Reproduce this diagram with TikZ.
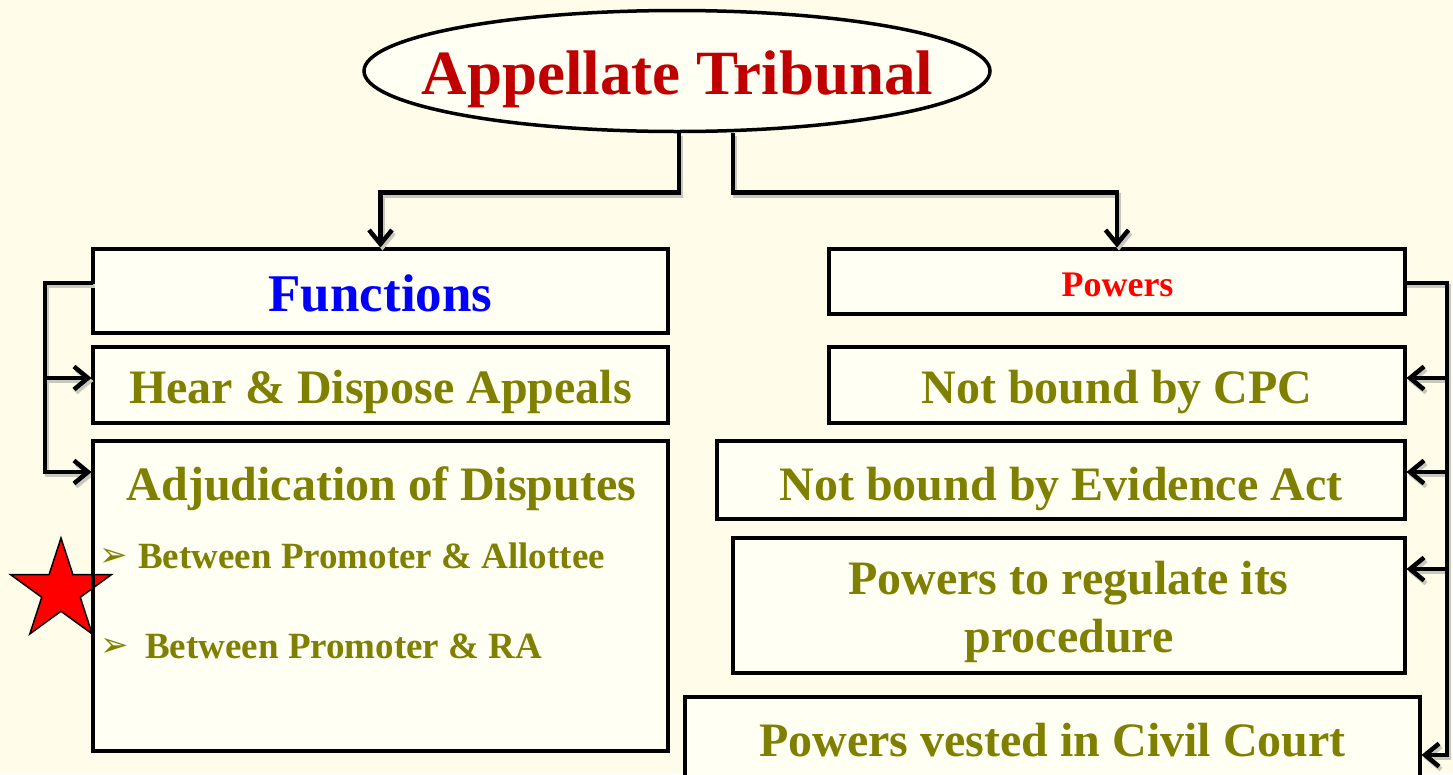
\documentclass[tikz,border=0pt]{standalone}
\usepackage{fontspec}
\setmainfont{Liberation Serif}
\newfontfamily\dejavu{DejaVu Sans}
\usetikzlibrary{arrows.meta,shapes.geometric,calc}
\definecolor{bg}{HTML}{FFFDE9}
\definecolor{boxfill}{HTML}{FFFFF3}
\definecolor{olivetxt}{HTML}{808000}
\definecolor{titlered}{HTML}{C00000}
\definecolor{shade}{HTML}{C8C8BE}
\newcommand\myconnectors{%
\draw[conn,arr] ([xshift=2]title.south) -- ++(0,59) -| (func.north);
\draw[conn,arr] ([xshift=56]title.south) -- ++(0,59) -| (pow.north);
\draw[conn,arr] (func.west |- LT) -- (LT) -- (LB) -- (adj.west |- LB);
\draw[conn,arr] (LM) -- (hear.west |- LM);
\draw[conn,arr] (pow.east |- RT) -- (RT) -- (RB) -- (civ.east |- RB);
\draw[conn,arr] (R1) -- (cpc.east |- R1);
\draw[conn,arr] (R2) -- (evid.east |- R2);
\draw[conn,arr] (R3) -- (reg.east |- R3);
}
\begin{document}
\begin{tikzpicture}[x=1pt,y=-1pt,
  box/.style={draw=black, line width=4pt, fill=boxfill, rectangle, inner sep=0pt, outer sep=0pt},
  maintxt/.style={font=\fontsize{48}{56}\selectfont\bfseries, text=olivetxt, anchor=base, inner sep=0pt},
  subtxt/.style={font=\fontsize{37}{42}\selectfont\bfseries, text=olivetxt, anchor=base west, inner sep=0pt},
  bul/.style={font=\dejavu\fontsize{34}{36}\selectfont, text=olivetxt, anchor=base west, inner sep=0pt},
  conn/.style={line width=4.5pt, shorten >=1.5pt},
  arr/.style={-{Straight Barb[length=14pt,width=23pt]}}
]
\fill[bg] (0,0) rectangle (1453,774);
\useasboundingbox (0,0) rectangle (1453,774);

% title
\node[draw=black, line width=3.5pt, ellipse, fill=boxfill, minimum width=626, minimum height=121, inner sep=0pt] (title) at (677,71) {};
\node[font=\fontsize{63}{70}\selectfont\bfseries, text=titlered, anchor=base, inner sep=0pt] (titletxt) at (677.5,94) {Appellate Tribunal};

% bus coordinates
\coordinate (LT) at (45,283);
\coordinate (LM) at (45,378);
\coordinate (LB) at (45,472);
\coordinate (RT) at (1447,283);
\coordinate (R1) at (1447,378);
\coordinate (R2) at (1447,472);
\coordinate (R3) at (1447,569);
\coordinate (RB) at (1447,755);

% left boxes
\node[box, minimum width=575, minimum height=84] (func) at (380.5,291) {};
\node[box, minimum width=575, minimum height=76] (hear) at (380.5,385) {};
\node[box, minimum width=575, minimum height=310] (adj) at (380.5,596) {};

% right boxes
\node[box, minimum width=576, minimum height=65] (pow) at (1117,281.5) {};
\node[box, minimum width=576, minimum height=76] (cpc) at (1117,385) {};
\node[box, minimum width=688, minimum height=78] (evid) at (1061,480) {};
\node[box, minimum width=672, minimum height=135] (reg) at (1069,605.5) {};
\node[box, minimum width=735, minimum height=80] (civ) at (1052.5,737) {};

% connector shadows
\begin{scope}[transform canvas={shift={(2pt,-3pt)}}, every path/.append style={draw=shade}]
\myconnectors
\end{scope}
% connectors
\myconnectors

% texts
\node[font=\fontsize{53}{60}\selectfont\bfseries, text=blue, anchor=base, inner sep=0pt] (functxt) at (380.5,311) {Functions};
\node[maintxt] (heartxt) at (380.5,403) {Hear \& Dispose Appeals};
\node[maintxt] (adjtxt) at (381.5,500) {Adjudication of Disputes};
\node[bul] (m1) at (99,566) {➢};
\node[subtxt] (b1) at (138,568) {Between Promoter \& Allottee};
\node[bul] (m2) at (100,656) {➢};
\node[subtxt] (b2) at (145,658) {Between Promoter \& RA};

\node[font=\fontsize{36}{40}\selectfont\bfseries, text=red, anchor=base, inner sep=0pt] (powtxt) at (1117.5,296) {Powers};
\node[maintxt] (cpctxt) at (1117,403) {Not bound by CPC};
\node[maintxt] (evidtxt) at (1061,500) {Not bound by Evidence Act};
\node[maintxt] (regtxt1) at (1068.5,594) {Powers to regulate its};
\node[maintxt] (regtxt2) at (1069,652) {procedure};
\node[maintxt] (civtxt) at (1052.5,756) {Powers vested in Civil Court};

% star
\node[star, star points=5, star point ratio=2.618, minimum size=106, fill=red, draw=black, line width=1.5pt, inner sep=0pt] (star) at (61,591) {};
\draw[line width=4pt] (adj.north west) -- (adj.south west);
\end{tikzpicture}
\end{document}
